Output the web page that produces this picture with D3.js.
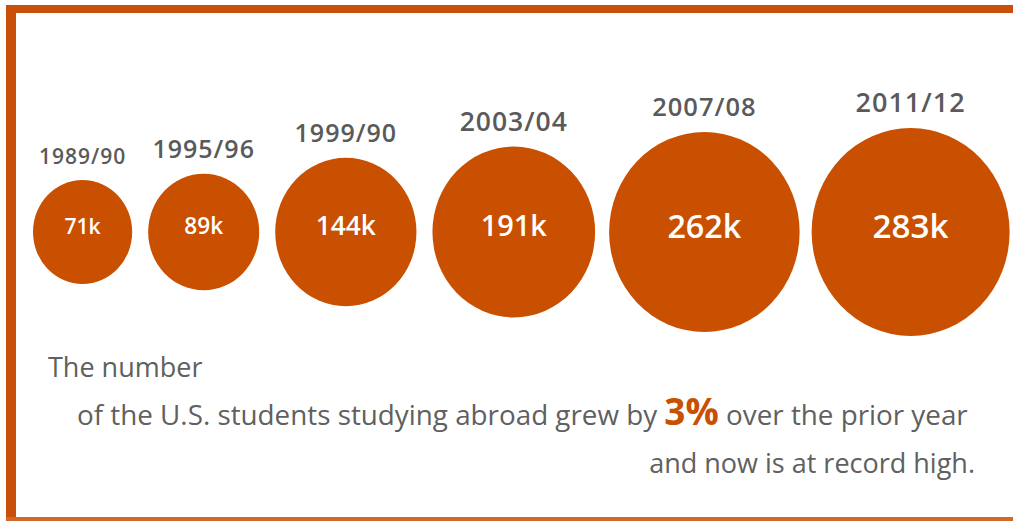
<!DOCTYPE html>
<html>
<head>
<meta charset="utf-8">
<script src="https://cdn.jsdelivr.net/npm/d3@7"></script>
<style>
  html, body { margin:0; padding:0; background:#fff; }
  svg { display:block; }
</style>
</head>
<body>
<div id="chart"></div>
<script>
// data
var years  = ["1989/90", "1995/96", "1999/90", "2003/04", "2007/08", "2011/12"];
var values = [71, 89, 144, 191, 262, 283];   // thousands of students
var valueLabels = ["71k", "89k", "144k", "191k", "262k", "283k"];
var captionLine1 = "The number";
var captionLine2a = "of the U.S. students studying abroad grew by ";
var captionHighlight = "3%";
var captionLine2b = " over the prior year";
var captionLine3 = "and now is at record high.";

var W = 1013, H = 521;
var orange = "#c85000", grey = "#606060", font = "'Open Sans', 'Noto Sans', sans-serif";

var svg = d3.select("#chart").append("svg")
  .attr("width", W).attr("height", H)
  .attr("viewBox", "0 0 " + W + " " + H);

// frame (orange on left, top, bottom)
svg.append("rect").attr("x", 6).attr("y", 5).attr("width", W - 6).attr("height", 8).attr("fill", "#c9500a");
svg.append("rect").attr("x", 6).attr("y", 5).attr("width", 10).attr("height", H - 5).attr("fill", "#c9500a");
svg.append("rect").attr("x", 6).attr("y", 517).attr("width", W - 6).attr("height", 4).attr("fill", "#d0692a");

// area-proportional radius
var r = d3.scaleSqrt().domain([0, d3.max(values)]).range([0, 99]);
var squash = 1.05;      // picture is slightly taller than wide
var cy = 232;
var gaps = [16, 16, 16, 14, 12];

// pack the bubbles left to right
var cx = [];
var left = 33;
values.forEach(function(v, i){
  if (i > 0) left = cx[i-1] + r(values[i-1]) + gaps[i-1];
  cx.push(left + r(v));
});

var yearSize = [21, 25, 25, 26.5, 25.5, 27];

var g = svg.append("g");
var bubble = g.selectAll("g.bubble").data(values).enter()
  .append("g").attr("class", "bubble");

bubble.append("ellipse")
  .attr("cx", function(d, i){ return cx[i]; })
  .attr("cy", cy)
  .attr("rx", function(d){ return r(d); })
  .attr("ry", function(d){ return r(d) * squash; })
  .attr("fill", orange);

bubble.append("text")
  .attr("x", function(d, i){ return cx[i]; })
  .attr("y", cy - 6)
  .attr("dy", "0.36em")
  .attr("text-anchor", "middle")
  .attr("fill", "#fff")
  .style("font-family", font)
  .style("font-weight", 600)
  .style("font-size", function(d){ return (9 + 0.245 * r(d)) + "px"; })
  .text(function(d, i){ return valueLabels[i]; });

bubble.append("text")
  .attr("x", function(d, i){ return cx[i]; })
  .attr("y", function(d){ return cy - r(d) * squash - 16; })
  .attr("text-anchor", "middle")
  .attr("fill", "#5a5a5a")
  .style("font-family", font)
  .style("font-weight", 600)
  .style("letter-spacing", "1px")
  .style("font-size", function(d, i){ return yearSize[i] + "px"; })
  .text(function(d, i){ return years[i]; });

// caption
var cap = svg.append("g").style("font-family", font).attr("fill", grey);
cap.append("text").attr("x", 48).attr("y", 377)
  .style("font-size", "27px").text(captionLine1);

var l2 = cap.append("text").attr("x", 77).attr("y", 425).style("font-size", "27.8px");
l2.append("tspan").text(captionLine2a);
l2.append("tspan").attr("fill", orange).style("font-weight", 700).style("font-size", "37px").text(captionHighlight);
l2.append("tspan").text(captionLine2b);

cap.append("text").attr("x", 975).attr("y", 473).attr("text-anchor", "end")
  .style("font-size", "27px").text(captionLine3);
</script>
</body>
</html>
